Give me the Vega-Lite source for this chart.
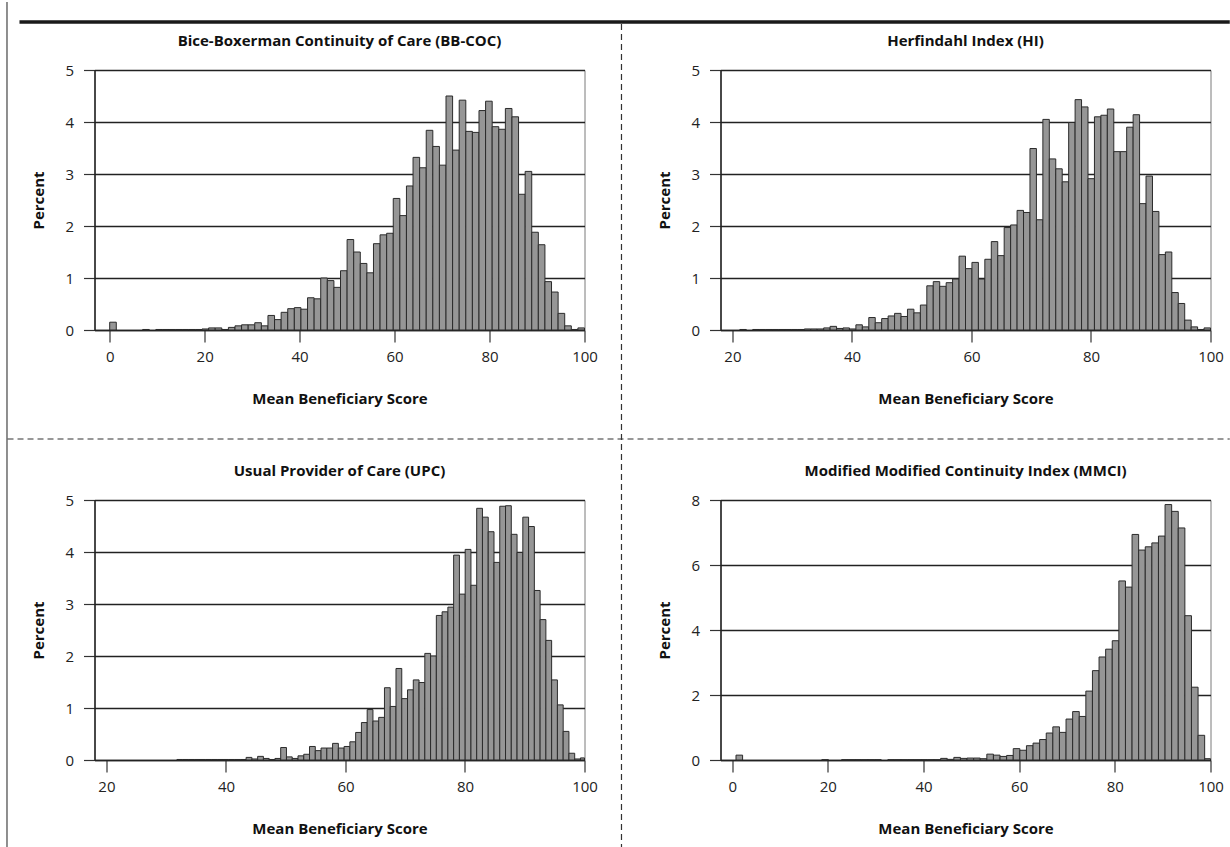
{
  "$schema": "https://vega.github.io/schema/vega-lite/v6.json",
  "background": "white",
  "autosize": {"type": "pad"},
  "padding": {"left": 5.5, "top": 0, "right": 0, "bottom": 0},
  "bounds": "flush",
  "columns": 2,
  "spacing": {"row": 170, "column": 136},
  "config": {
    "font": "Open Sans",
    "view": {"stroke": "#7a7a7a", "strokeWidth": 1},
    "axis": {
      "domainColor": "#222", "domainWidth": 1.5,
      "tickColor": "#333", "tickWidth": 1.2, "tickSize": 12,
      "labelFont": "Open Sans", "labelFontSize": 15, "labelColor": "#222", "labelFlush": false, "labelOverlap": false,
      "titleFont": "Open Sans", "titleFontSize": 15, "titleFontWeight": "bold", "titleColor": "#111",
      "gridColor": "#222", "gridWidth": 1.3, "gridOpacity": 1
    },
    "axisX": {"grid": false, "labelPadding": 7, "titlePadding": 27},
    "axisY": {"grid": true, "labelPadding": 10, "titlePadding": 18, "tickSize": 11},
    "title": {"font": "Open Sans", "fontSize": 15, "fontWeight": "bold", "color": "#111", "offset": 14, "anchor": "middle", "frame": "group"}
  },
  "datasets": {
    "p1": [
      {"lo":0,"hi":1.389,"pct":0.15},{"lo":6.944,"hi":8.333,"pct":0.01},{"lo":9.722,"hi":11.111,"pct":0.01},{"lo":11.111,"hi":12.5,"pct":0.01},
      {"lo":12.5,"hi":13.889,"pct":0.01},{"lo":13.889,"hi":15.278,"pct":0.01},{"lo":15.278,"hi":16.667,"pct":0.01},{"lo":16.667,"hi":18.056,"pct":0.01},
      {"lo":18.056,"hi":19.444,"pct":0.01},{"lo":19.444,"hi":20.833,"pct":0.02},{"lo":20.833,"hi":22.222,"pct":0.04},{"lo":22.222,"hi":23.611,"pct":0.04},
      {"lo":23.611,"hi":25,"pct":0.01},{"lo":25,"hi":26.389,"pct":0.05},{"lo":26.389,"hi":27.778,"pct":0.08},{"lo":27.778,"hi":29.167,"pct":0.1},
      {"lo":29.167,"hi":30.556,"pct":0.1},{"lo":30.556,"hi":31.944,"pct":0.14},{"lo":31.944,"hi":33.333,"pct":0.08},{"lo":33.333,"hi":34.722,"pct":0.28},
      {"lo":34.722,"hi":36.111,"pct":0.2},{"lo":36.111,"hi":37.5,"pct":0.34},{"lo":37.5,"hi":38.889,"pct":0.41},{"lo":38.889,"hi":40.278,"pct":0.43},
      {"lo":40.278,"hi":41.667,"pct":0.4},{"lo":41.667,"hi":43.056,"pct":0.62},{"lo":43.056,"hi":44.444,"pct":0.6},{"lo":44.444,"hi":45.833,"pct":1.0},
      {"lo":45.833,"hi":47.222,"pct":0.95},{"lo":47.222,"hi":48.611,"pct":0.82},{"lo":48.611,"hi":50,"pct":1.14},{"lo":50,"hi":51.389,"pct":1.74},
      {"lo":51.389,"hi":52.778,"pct":1.5},{"lo":52.778,"hi":54.167,"pct":1.28},{"lo":54.167,"hi":55.556,"pct":1.1},{"lo":55.556,"hi":56.944,"pct":1.66},
      {"lo":56.944,"hi":58.333,"pct":1.83},{"lo":58.333,"hi":59.722,"pct":1.86},{"lo":59.722,"hi":61.111,"pct":2.53},{"lo":61.111,"hi":62.5,"pct":2.2},
      {"lo":62.5,"hi":63.889,"pct":2.77},{"lo":63.889,"hi":65.278,"pct":3.32},{"lo":65.278,"hi":66.667,"pct":3.12},{"lo":66.667,"hi":68.056,"pct":3.84},
      {"lo":68.056,"hi":69.444,"pct":3.53},{"lo":69.444,"hi":70.833,"pct":3.17},{"lo":70.833,"hi":72.222,"pct":4.5},{"lo":72.222,"hi":73.611,"pct":3.46},
      {"lo":73.611,"hi":75,"pct":4.42},{"lo":75,"hi":76.389,"pct":3.82},{"lo":76.389,"hi":77.778,"pct":3.8},{"lo":77.778,"hi":79.167,"pct":4.22},
      {"lo":79.167,"hi":80.556,"pct":4.4},{"lo":80.556,"hi":81.944,"pct":3.91},{"lo":81.944,"hi":83.333,"pct":3.86},{"lo":83.333,"hi":84.722,"pct":4.26},
      {"lo":84.722,"hi":86.111,"pct":4.1},{"lo":86.111,"hi":87.5,"pct":2.61},{"lo":87.5,"hi":88.889,"pct":3.05},{"lo":88.889,"hi":90.278,"pct":1.88},
      {"lo":90.278,"hi":91.667,"pct":1.64},{"lo":91.667,"hi":93.056,"pct":0.93},{"lo":93.056,"hi":94.444,"pct":0.73},{"lo":94.444,"hi":95.833,"pct":0.32},
      {"lo":95.833,"hi":97.222,"pct":0.08},{"lo":97.222,"hi":98.611,"pct":0.01},{"lo":98.611,"hi":100,"pct":0.04}
    ],
    "p2": [
      {"lo":21.237,"hi":22.316,"pct":0.01},{"lo":23.395,"hi":24.474,"pct":0.01},{"lo":24.474,"hi":25.553,"pct":0.01},{"lo":25.553,"hi":26.632,"pct":0.01},
      {"lo":26.632,"hi":27.711,"pct":0.01},{"lo":27.711,"hi":28.789,"pct":0.01},{"lo":28.789,"hi":29.868,"pct":0.01},{"lo":29.868,"hi":30.947,"pct":0.01},
      {"lo":30.947,"hi":32.026,"pct":0.01},{"lo":32.026,"hi":33.105,"pct":0.02},{"lo":33.105,"hi":34.184,"pct":0.02},{"lo":34.184,"hi":35.263,"pct":0.02},
      {"lo":35.263,"hi":36.342,"pct":0.04},{"lo":36.342,"hi":37.421,"pct":0.07},{"lo":37.421,"hi":38.5,"pct":0.03},{"lo":38.5,"hi":39.579,"pct":0.04},
      {"lo":39.579,"hi":40.658,"pct":0.02},{"lo":40.658,"hi":41.737,"pct":0.1},{"lo":41.737,"hi":42.816,"pct":0.06},{"lo":42.816,"hi":43.895,"pct":0.24},
      {"lo":43.895,"hi":44.974,"pct":0.14},{"lo":44.974,"hi":46.053,"pct":0.22},{"lo":46.053,"hi":47.132,"pct":0.27},{"lo":47.132,"hi":48.211,"pct":0.32},
      {"lo":48.211,"hi":49.289,"pct":0.26},{"lo":49.289,"hi":50.368,"pct":0.4},{"lo":50.368,"hi":51.447,"pct":0.33},{"lo":51.447,"hi":52.526,"pct":0.48},
      {"lo":52.526,"hi":53.605,"pct":0.85},{"lo":53.605,"hi":54.684,"pct":0.93},{"lo":54.684,"hi":55.763,"pct":0.84},{"lo":55.763,"hi":56.842,"pct":0.91},
      {"lo":56.842,"hi":57.921,"pct":0.98},{"lo":57.921,"hi":59,"pct":1.42},{"lo":59,"hi":60.079,"pct":1.18},{"lo":60.079,"hi":61.158,"pct":1.3},
      {"lo":61.158,"hi":62.237,"pct":0.98},{"lo":62.237,"hi":63.316,"pct":1.36},{"lo":63.316,"hi":64.395,"pct":1.7},{"lo":64.395,"hi":65.474,"pct":1.43},
      {"lo":65.474,"hi":66.553,"pct":1.97},{"lo":66.553,"hi":67.632,"pct":2.02},{"lo":67.632,"hi":68.711,"pct":2.3},{"lo":68.711,"hi":69.789,"pct":2.26},
      {"lo":69.789,"hi":70.868,"pct":3.49},{"lo":70.868,"hi":71.947,"pct":2.12},{"lo":71.947,"hi":73.026,"pct":4.05},{"lo":73.026,"hi":74.105,"pct":3.29},
      {"lo":74.105,"hi":75.184,"pct":3.1},{"lo":75.184,"hi":76.263,"pct":2.85},{"lo":76.263,"hi":77.342,"pct":3.99},{"lo":77.342,"hi":78.421,"pct":4.43},
      {"lo":78.421,"hi":79.5,"pct":4.29},{"lo":79.5,"hi":80.579,"pct":2.91},{"lo":80.579,"hi":81.658,"pct":4.1},{"lo":81.658,"hi":82.737,"pct":4.13},
      {"lo":82.737,"hi":83.816,"pct":4.25},{"lo":83.816,"hi":84.895,"pct":3.43},{"lo":84.895,"hi":85.974,"pct":3.43},{"lo":85.974,"hi":87.053,"pct":3.9},
      {"lo":87.053,"hi":88.132,"pct":4.14},{"lo":88.132,"hi":89.211,"pct":2.43},{"lo":89.211,"hi":90.289,"pct":2.96},{"lo":90.289,"hi":91.368,"pct":2.28},
      {"lo":91.368,"hi":92.447,"pct":1.45},{"lo":92.447,"hi":93.526,"pct":1.5},{"lo":93.526,"hi":94.605,"pct":0.72},{"lo":94.605,"hi":95.684,"pct":0.51},
      {"lo":95.684,"hi":96.763,"pct":0.19},{"lo":96.763,"hi":97.842,"pct":0.06},{"lo":97.842,"hi":98.921,"pct":0.01},{"lo":98.921,"hi":100,"pct":0.04}
    ],
    "p3": [
      {"lo":31.796,"hi":32.761,"pct":0.01},{"lo":32.761,"hi":33.725,"pct":0.01},{"lo":33.725,"hi":34.69,"pct":0.01},{"lo":34.69,"hi":35.655,"pct":0.01},
      {"lo":35.655,"hi":36.619,"pct":0.01},{"lo":36.619,"hi":37.584,"pct":0.01},{"lo":37.584,"hi":38.549,"pct":0.01},{"lo":38.549,"hi":39.513,"pct":0.01},
      {"lo":39.513,"hi":40.478,"pct":0.01},{"lo":40.478,"hi":41.443,"pct":0.01},{"lo":41.443,"hi":42.408,"pct":0.01},{"lo":42.408,"hi":43.372,"pct":0.01},
      {"lo":43.372,"hi":44.337,"pct":0.05},{"lo":44.337,"hi":45.302,"pct":0.02},{"lo":45.302,"hi":46.266,"pct":0.07},{"lo":46.266,"hi":47.231,"pct":0.03},
      {"lo":47.231,"hi":48.196,"pct":0.01},{"lo":48.196,"hi":49.16,"pct":0.03},{"lo":49.16,"hi":50.125,"pct":0.24},{"lo":50.125,"hi":51.09,"pct":0.06},
      {"lo":51.09,"hi":52.055,"pct":0.03},{"lo":52.055,"hi":53.019,"pct":0.08},{"lo":53.019,"hi":53.984,"pct":0.11},{"lo":53.984,"hi":54.949,"pct":0.26},
      {"lo":54.949,"hi":55.913,"pct":0.18},{"lo":55.913,"hi":56.878,"pct":0.23},{"lo":56.878,"hi":57.843,"pct":0.23},{"lo":57.843,"hi":58.807,"pct":0.32},
      {"lo":58.807,"hi":59.772,"pct":0.23},{"lo":59.772,"hi":60.737,"pct":0.26},{"lo":60.737,"hi":61.702,"pct":0.35},{"lo":61.702,"hi":62.666,"pct":0.53},
      {"lo":62.666,"hi":63.631,"pct":0.72},{"lo":63.631,"hi":64.596,"pct":0.97},{"lo":64.596,"hi":65.56,"pct":0.75},{"lo":65.56,"hi":66.525,"pct":0.82},
      {"lo":66.525,"hi":67.49,"pct":1.39},{"lo":67.49,"hi":68.454,"pct":1.03},{"lo":68.454,"hi":69.419,"pct":1.76},{"lo":69.419,"hi":70.384,"pct":1.18},
      {"lo":70.384,"hi":71.349,"pct":1.35},{"lo":71.349,"hi":72.313,"pct":1.54},{"lo":72.313,"hi":73.278,"pct":1.49},{"lo":73.278,"hi":74.243,"pct":2.05},
      {"lo":74.243,"hi":75.207,"pct":2.0},{"lo":75.207,"hi":76.172,"pct":2.78},{"lo":76.172,"hi":77.137,"pct":2.85},{"lo":77.137,"hi":78.101,"pct":2.94},
      {"lo":78.101,"hi":79.066,"pct":3.94},{"lo":79.066,"hi":80.031,"pct":3.19},{"lo":80.031,"hi":80.996,"pct":4.05},{"lo":80.996,"hi":81.96,"pct":3.36},
      {"lo":81.96,"hi":82.925,"pct":4.84},{"lo":82.925,"hi":83.89,"pct":4.67},{"lo":83.89,"hi":84.854,"pct":4.39},{"lo":84.854,"hi":85.819,"pct":3.8},
      {"lo":85.819,"hi":86.784,"pct":4.88},{"lo":86.784,"hi":87.748,"pct":4.89},{"lo":87.748,"hi":88.713,"pct":4.34},{"lo":88.713,"hi":89.678,"pct":3.99},
      {"lo":89.678,"hi":90.643,"pct":4.67},{"lo":90.643,"hi":91.607,"pct":4.49},{"lo":91.607,"hi":92.572,"pct":3.26},{"lo":92.572,"hi":93.537,"pct":2.7},
      {"lo":93.537,"hi":94.501,"pct":2.3},{"lo":94.501,"hi":95.466,"pct":1.54},{"lo":95.466,"hi":96.431,"pct":1.06},{"lo":96.431,"hi":97.395,"pct":0.55},
      {"lo":97.395,"hi":98.36,"pct":0.13},{"lo":98.36,"hi":99.325,"pct":0.02},{"lo":99.325,"hi":100,"pct":0.04}
    ],
    "p4": [
      {"lo":0.8,"hi":2.18,"pct":0.15},{"lo":18.74,"hi":20.12,"pct":0.01},{"lo":22.88,"hi":24.26,"pct":0.01},{"lo":24.26,"hi":25.64,"pct":0.01},
      {"lo":25.64,"hi":27.02,"pct":0.01},{"lo":27.02,"hi":28.4,"pct":0.01},{"lo":28.4,"hi":29.78,"pct":0.01},{"lo":29.78,"hi":31.16,"pct":0.01},
      {"lo":32.54,"hi":33.92,"pct":0.01},{"lo":33.92,"hi":35.3,"pct":0.01},{"lo":35.3,"hi":36.68,"pct":0.01},{"lo":36.68,"hi":38.06,"pct":0.01},
      {"lo":38.06,"hi":39.44,"pct":0.01},{"lo":39.44,"hi":40.82,"pct":0.01},{"lo":40.82,"hi":42.2,"pct":0.01},{"lo":42.2,"hi":43.58,"pct":0.01},
      {"lo":43.58,"hi":44.96,"pct":0.05},{"lo":44.96,"hi":46.34,"pct":0.02},{"lo":46.34,"hi":47.72,"pct":0.08},{"lo":47.72,"hi":49.1,"pct":0.05},
      {"lo":49.1,"hi":50.48,"pct":0.06},{"lo":50.48,"hi":51.86,"pct":0.06},{"lo":51.86,"hi":53.24,"pct":0.04},{"lo":53.24,"hi":54.62,"pct":0.18},
      {"lo":54.62,"hi":56,"pct":0.15},{"lo":56,"hi":57.38,"pct":0.11},{"lo":57.38,"hi":58.76,"pct":0.14},{"lo":58.76,"hi":60.14,"pct":0.35},
      {"lo":60.14,"hi":61.52,"pct":0.3},{"lo":61.52,"hi":62.9,"pct":0.44},{"lo":62.9,"hi":64.28,"pct":0.52},{"lo":64.28,"hi":65.66,"pct":0.63},
      {"lo":65.66,"hi":67.04,"pct":0.83},{"lo":67.04,"hi":68.42,"pct":1.02},{"lo":68.42,"hi":69.8,"pct":0.85},{"lo":69.8,"hi":71.18,"pct":1.26},
      {"lo":71.18,"hi":72.56,"pct":1.49},{"lo":72.56,"hi":73.94,"pct":1.34},{"lo":73.94,"hi":75.32,"pct":2.12},{"lo":75.32,"hi":76.7,"pct":2.75},
      {"lo":76.7,"hi":78.08,"pct":3.17},{"lo":78.08,"hi":79.46,"pct":3.41},{"lo":79.46,"hi":80.84,"pct":3.67},{"lo":80.84,"hi":82.22,"pct":5.51},
      {"lo":82.22,"hi":83.6,"pct":5.32},{"lo":83.6,"hi":84.98,"pct":6.94},{"lo":84.98,"hi":86.36,"pct":6.46},{"lo":86.36,"hi":87.74,"pct":6.56},
      {"lo":87.74,"hi":89.12,"pct":6.68},{"lo":89.12,"hi":90.5,"pct":6.89},{"lo":90.5,"hi":91.88,"pct":7.86},{"lo":91.88,"hi":93.26,"pct":7.65},
      {"lo":93.26,"hi":94.64,"pct":7.14},{"lo":94.64,"hi":96.02,"pct":4.44},{"lo":96.02,"hi":97.4,"pct":2.24},{"lo":97.4,"hi":98.78,"pct":0.76},
      {"lo":98.78,"hi":100,"pct":0.04}
    ]
  },
  "concat": [
    {
      "width": 490, "height": 260,
      "layer": [
        {
          "data": {"name": "p1"},
          "mark": {"type": "bar", "fill": "#969696", "stroke": "#2b2b2b", "strokeWidth": 1},
          "encoding": {
            "x": {"field": "lo", "type": "quantitative", "scale": {"domain": [-3.2, 100], "nice": false, "zero": false},
                  "axis": {"values": [0, 20, 40, 60, 80, 100], "title": "Mean Beneficiary Score"}},
            "x2": {"field": "hi"},
            "y": {"field": "pct", "type": "quantitative", "scale": {"domain": [0, 5], "nice": false},
                  "axis": {"values": [0, 1, 2, 3, 4, 5], "title": "Percent"}},
            "y2": {"datum": 0}
          }
        },
        {
          "data": {"values": [{"label": "Bice-Boxerman Continuity of Care (BB-COC)"}]},
          "mark": {"type": "text", "font": "Open Sans", "fontSize": 15, "fontWeight": "bold", "color": "#111", "align": "center", "baseline": "middle", "clip": false},
          "encoding": {"x": {"datum": 48.4, "type": "quantitative"}, "y": {"datum": 5.558, "type": "quantitative"}, "text": {"field": "label"}}
        },
        {
          "data": {"values": [{}]},
          "mark": {"type": "rule", "color": "#444", "strokeWidth": 1.2, "clip": false},
          "encoding": {"x": {"datum": -21.63, "type": "quantitative"}, "y": {"datum": 6.308, "type": "quantitative"}, "y2": {"datum": -9.94}}
        },
        {
          "data": {"values": [{}]},
          "mark": {"type": "rule", "color": "#1a1a1a", "strokeWidth": 3.5, "clip": false},
          "encoding": {"x": {"datum": -19.0, "type": "quantitative"}, "x2": {"datum": 235.9}, "y": {"datum": 5.923, "type": "quantitative"}}
        },
        {
          "data": {"values": [{}]},
          "mark": {"type": "rule", "color": "#333", "strokeWidth": 1.2, "strokeDash": [6, 4], "clip": false},
          "encoding": {"x": {"datum": -21.52, "type": "quantitative"}, "x2": {"datum": 235.9}, "y": {"datum": -2.096, "type": "quantitative"}}
        },
        {
          "data": {"values": [{}]},
          "mark": {"type": "rule", "color": "#333", "strokeWidth": 1.2, "strokeDash": [6, 4], "clip": false},
          "encoding": {"x": {"datum": 107.79, "type": "quantitative"}, "y": {"datum": 5.885, "type": "quantitative"}, "y2": {"datum": -9.98}}
        }
      ]
    },
    {
      "width": 490, "height": 260,
      "title": {"text": "Herfindahl Index (HI)"},
      "data": {"name": "p2"},
      "mark": {"type": "bar", "fill": "#969696", "stroke": "#2b2b2b", "strokeWidth": 1},
      "encoding": {
        "x": {"field": "lo", "type": "quantitative", "scale": {"domain": [18, 100], "nice": false, "zero": false},
              "axis": {"values": [20, 40, 60, 80, 100], "title": "Mean Beneficiary Score"}},
        "x2": {"field": "hi"},
        "y": {"field": "pct", "type": "quantitative", "scale": {"domain": [0, 5], "nice": false},
              "axis": {"values": [0, 1, 2, 3, 4, 5], "title": "Percent"}},
        "y2": {"datum": 0}
      }
    },
    {
      "width": 490, "height": 260,
      "title": {"text": "Usual Provider of Care (UPC)"},
      "data": {"name": "p3"},
      "mark": {"type": "bar", "fill": "#969696", "stroke": "#2b2b2b", "strokeWidth": 1},
      "encoding": {
        "x": {"field": "lo", "type": "quantitative", "scale": {"domain": [18, 100], "nice": false, "zero": false},
              "axis": {"values": [20, 40, 60, 80, 100], "title": "Mean Beneficiary Score"}},
        "x2": {"field": "hi"},
        "y": {"field": "pct", "type": "quantitative", "scale": {"domain": [0, 5], "nice": false},
              "axis": {"values": [0, 1, 2, 3, 4, 5], "title": "Percent"}},
        "y2": {"datum": 0}
      }
    },
    {
      "width": 490, "height": 260,
      "title": {"text": "Modified Modified Continuity Index (MMCI)"},
      "data": {"name": "p4"},
      "mark": {"type": "bar", "fill": "#969696", "stroke": "#2b2b2b", "strokeWidth": 1},
      "encoding": {
        "x": {"field": "lo", "type": "quantitative", "scale": {"domain": [-2.44, 100], "nice": false, "zero": false},
              "axis": {"values": [0, 20, 40, 60, 80, 100], "title": "Mean Beneficiary Score"}},
        "x2": {"field": "hi"},
        "y": {"field": "pct", "type": "quantitative", "scale": {"domain": [0, 8], "nice": false},
              "axis": {"values": [0, 2, 4, 6, 8], "title": "Percent"}},
        "y2": {"datum": 0}
      }
    }
  ]
}
